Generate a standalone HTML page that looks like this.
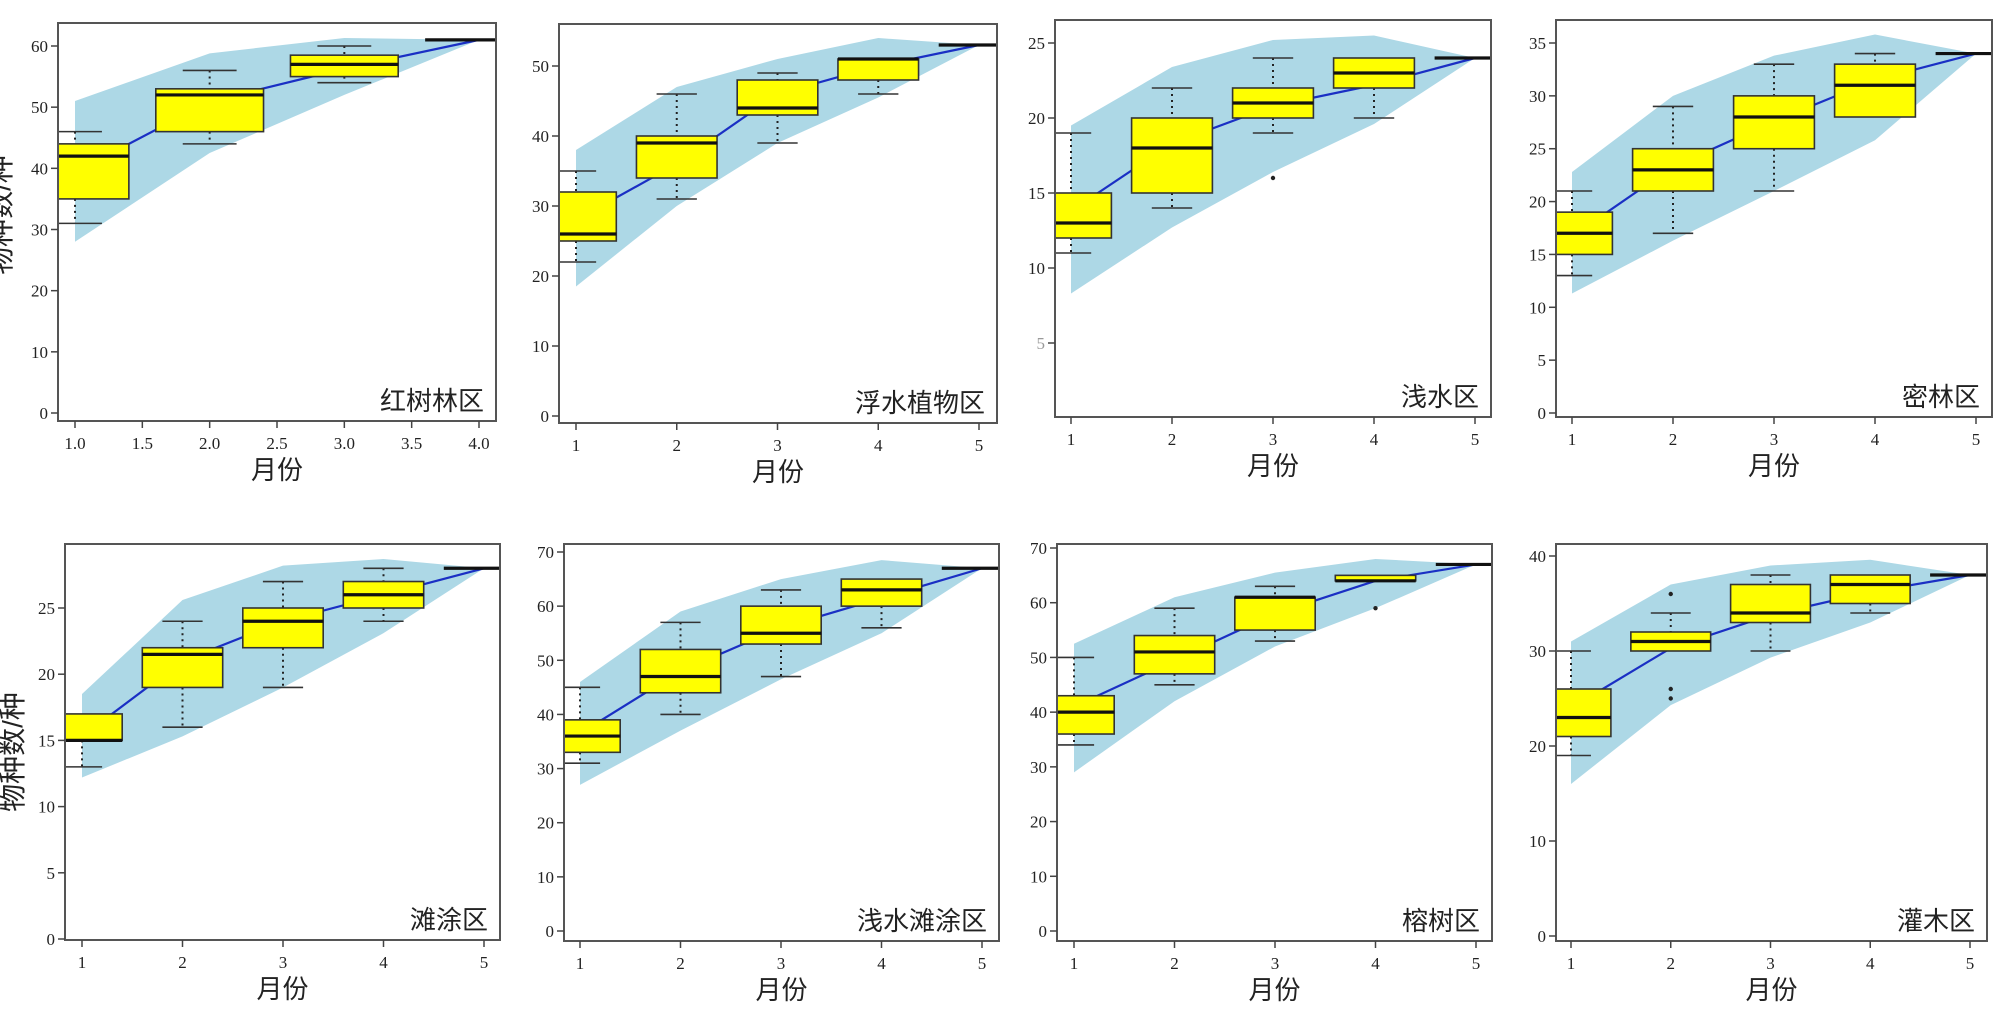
<!DOCTYPE html>
<html><head><meta charset="utf-8">
<style>
html,body{margin:0;padding:0;background:#fff;}
svg{display:block;}
text{font-family:"Liberation Serif","Noto Serif CJK SC",serif;}
.cjk{font-family:"Liberation Sans","Noto Sans CJK SC",sans-serif;}
</style></head>
<body>
<svg id="fig" width="2006" height="1034" viewBox="0 0 2006 1034" xmlns="http://www.w3.org/2000/svg">
<text class="cjk" transform="translate(10,215) rotate(-90)" text-anchor="middle" font-size="28" fill="#222">物种数/种</text>
<text class="cjk" transform="translate(22,752) rotate(-90)" text-anchor="middle" font-size="28" fill="#222">物种数/种</text>
</svg>
<script>
// ---- data per panel: [min, q1, median, q3, max] for each month
const titles = ["红树林区","浮水植物区","浅水区","密林区","滩涂区","浅水滩涂区","榕树区","灌木区"];
const months1 = [1,2,3,4];
const months = [1,2,3,4,5];
const box1 = [[31,35,42,44,46],[44,46,52,53,56],[54,55,57,58.5,60],[61,61,61,61,61]];
const box2 = [[22,25,26,32,35],[31,34,39,40,46],[39,43,44,48,49],[46,48,51,51,51],[53,53,53,53,53]];
const box3 = [[11,12,13,15,19],[14,15,18,20,22],[19,20,21,22,24],[20,22,23,24,24],[24,24,24,24,24]];
const box4 = [[13,15,17,19,21],[17,21,23,25,29],[21,25,28,30,33],[28,28,31,33,34],[34,34,34,34,34]];
const box5 = [[13,15,15,17,17],[16,19,21.5,22,24],[19,22,24,25,27],[24,25,26,27,28],[28,28,28,28,28]];
const box6 = [[31,33,36,39,45],[40,44,47,52,57],[47,53,55,60,63],[56,60,63,65,65],[67,67,67,67,67]];
const box7 = [[34,36,40,43,50],[45,47,51,54,59],[53,55,61,61,63],[64,64,64,65,65],[67,67,67,67,67]];
const box8 = [[19,21,23,26,30],[30,30,31,32,34],[30,33,34,37,38],[34,35,37,38,38],[38,38,38,38,38]];
// outliers: [month, value]
const out3 = [[3,16]];
const out7 = [[4,59]];
const out8 = [[2,36],[2,26],[2,25]];
// mean curve
const mean1 = [39.4,50.9,56.3,61];
const mean2 = [28,36,46,50,53];
const mean3 = [13.8,18.3,20.8,22.2,24];
const mean4 = [16.7,23.3,27.6,31.5,34];
const mean5 = [15.3,21,24,26,28];
const mean6 = [36.5,48,56,61.5,67];
const mean7 = [41,49.5,58,64,67];
const mean8 = [24,30.3,33.8,36.2,38];
// confidence band
const up1 = [51,58.8,61.3,61];
const lo1 = [28,42.5,52,61];
const up2 = [38,47,51,54,53];
const lo2 = [18.5,30,39,45.5,53];
const up3 = [19.5,23.4,25.2,25.5,24];
const lo3 = [8.3,12.7,16.4,19.6,24];
const up4 = [22.8,30,33.8,35.8,34];
const lo4 = [11.3,16.3,21,25.8,34];
const up5 = [18.5,25.6,28.2,28.7,28];
const lo5 = [12.2,15.3,19,23.1,28];
const up6 = [46,59,65,68.5,67];
const lo6 = [27,37,46.5,55,67];
const up7 = [52.5,61,65.5,68,67];
const lo7 = [29,42,52,59,67];
const up8 = [31,37,39,39.6,38];
const lo8 = [16,24.3,29.3,33,38];
// tick labels
const xt1 = ["1.0","1.5","2.0","2.5","3.0","3.5","4.0"];
const xtv1 = [1,1.5,2,2.5,3,3.5,4];
const xt = ["1","2","3","4","5"];
const yt1 = [0,10,20,30,40,50,60];
const yt2 = [0,10,20,30,40,50];
const yt3 = [5,10,15,20,25];
const yt4 = [0,5,10,15,20,25,30,35];
const yt5 = [0,5,10,15,20,25];
const yt6 = [0,10,20,30,40,50,60,70];
const yt7 = [0,10,20,30,40,50,60,70];
const yt8 = [0,10,20,30,40];

// layout (frame px; axis reference points)
const panels = [
 {f:[58,23,496,421], xa:[1,75,4,479], ya:[0,413,60,46], xs:months1, box:box1, out:[], mean:mean1, up:up1, lo:lo1, xtv:xtv1, xtl:xt1, yt:yt1},
 {f:[559,24,997,423], xa:[1,576,5,979], ya:[0,416,50,66], xs:months, box:box2, out:[], mean:mean2, up:up2, lo:lo2, xtv:months, xtl:xt, yt:yt2},
 {f:[1055,20,1491,417], xa:[1,1071,5,1475], ya:[10,268,25,43], xs:months, box:box3, out:out3, mean:mean3, up:up3, lo:lo3, xtv:months, xtl:xt, yt:yt3},
 {f:[1556,20,1992,417], xa:[1,1572,5,1976], ya:[0,413,35,43], xs:months, box:box4, out:[], mean:mean4, up:up4, lo:lo4, xtv:months, xtl:xt, yt:yt4},
 {f:[65,544,500,940], xa:[1,82,5,484], ya:[0,939,25,608], xs:months, box:box5, out:[], mean:mean5, up:up5, lo:lo5, xtv:months, xtl:xt, yt:yt5},
 {f:[564,544,999,941], xa:[1,580,5,982], ya:[0,931,70,552], xs:months, box:box6, out:[], mean:mean6, up:up6, lo:lo6, xtv:months, xtl:xt, yt:yt6},
 {f:[1057,544,1492,941], xa:[1,1074,5,1476], ya:[0,931,70,548], xs:months, box:box7, out:out7, mean:mean7, up:up7, lo:lo7, xtv:months, xtl:xt, yt:yt7},
 {f:[1556,544,1987,941], xa:[1,1571,5,1970], ya:[0,936,40,556], xs:months, box:box8, out:out8, mean:mean8, up:up8, lo:lo8, xtv:months, xtl:xt, yt:yt8}
];
const NS="http://www.w3.org/2000/svg";
const svg=document.getElementById('fig');
function mk(tag,attrs,parent){const e=document.createElementNS(NS,tag);for(const k in attrs)e.setAttribute(k,attrs[k]);(parent||svg).appendChild(e);return e;}
let defs=mk('defs',{});
panels.forEach((p,i)=>{
  const [l,t,r,b]=p.f;
  const X=v=>p.xa[1]+(v-p.xa[0])*(p.xa[3]-p.xa[1])/(p.xa[2]-p.xa[0]);
  const Y=v=>p.ya[1]+(v-p.ya[0])*(p.ya[3]-p.ya[1])/(p.ya[2]-p.ya[0]);
  const g=mk('g',{});
  
  
  const cp=mk('clipPath',{id:'c'+i},defs);mk('rect',{x:l,y:t,width:r-l,height:b-t},cp);
  const pg=mk('g',{'clip-path':'url(#c'+i+')'},g);
  // band
  let pts=p.xs.map((x,k)=>X(x)+','+Y(p.up[k]));
  pts=pts.concat(p.xs.slice().reverse().map((x,k)=>X(x)+','+Y(p.lo[p.xs.length-1-k])));
  const band=mk('polygon',{points:pts.join(' '),fill:'#add8e6'},pg);
  
  
  // mean line
  const ml=mk('polyline',{points:p.xs.map((x,k)=>X(x)+','+Y(p.mean[k])).join(' '),fill:'none',stroke:'#1a2fc4','stroke-width':2.2},pg);
  
  
  // boxes
  p.xs.forEach((x,k)=>{
    const [mn,q1,md,q3,mx]=p.box[k];
    const bg=mk('g',{},pg);
    
    
    const cx=X(x), hw=X(x+0.4)-cx, cw=X(x+0.2)-cx;
    if(mx>q3) mk('line',{x1:cx,x2:cx,y1:Y(mx),y2:Y(q3),stroke:'#222','stroke-width':2,'stroke-dasharray':'2,4'},bg);
    if(mn<q1) mk('line',{x1:cx,x2:cx,y1:Y(q1),y2:Y(mn),stroke:'#222','stroke-width':2,'stroke-dasharray':'2,4'},bg);
    if(mx>q3) mk('line',{x1:cx-cw,x2:cx+cw,y1:Y(mx),y2:Y(mx),stroke:'#333','stroke-width':1.6},bg);
    if(mn<q1) mk('line',{x1:cx-cw,x2:cx+cw,y1:Y(mn),y2:Y(mn),stroke:'#333','stroke-width':1.6},bg);
    if(q3>q1) mk('rect',{x:cx-hw,y:Y(q3),width:2*hw,height:Y(q1)-Y(q3),fill:'#ffff00',stroke:'#333','stroke-width':1.6},bg);
    mk('line',{x1:cx-hw,x2:cx+hw,y1:Y(md),y2:Y(md),stroke:'#111','stroke-width':3.2},bg);
  });
  p.out.forEach(o=>{
    const c=mk('circle',{cx:X(o[0]),cy:Y(o[1]),r:2.2,fill:'#222'},pg);
    
    
  });
  // frame
  const fr=mk('rect',{x:l,y:t,width:r-l,height:b-t,fill:'none',stroke:'#555','stroke-width':2},g);
  
  
  // y ticks
  p.yt.forEach(v=>{
    mk('line',{x1:l-7,x2:l,y1:Y(v),y2:Y(v),stroke:'#444','stroke-width':1.5},g);
    const tx=mk('text',{x:l-10,y:Y(v)+6,'text-anchor':'end','font-size':17,fill:(i==2&&v==5)?'#999':'#222'},g);
    tx.textContent=v;
    
    
  });
  // x ticks
  p.xtv.forEach((v,k)=>{
    mk('line',{x1:X(v),x2:X(v),y1:b,y2:b+7,stroke:'#444','stroke-width':1.5},g);
    const tx=mk('text',{x:X(v),y:b+28,'text-anchor':'middle','font-size':17,fill:'#222'},g);
    tx.textContent=p.xtl[k];
    
    
  });
  const xl=mk('text',{x:(l+r)/2,y:b+58,'text-anchor':'middle','font-size':26,fill:'#222',class:'cjk'},g);
  xl.textContent='月份';
  
  
  const tl=mk('text',{x:r-12,y:b-11,'text-anchor':'end','font-size':26,fill:'#222',class:'cjk'},g);
  tl.textContent=titles[i];
  
  
});
</script>
</body></html>
